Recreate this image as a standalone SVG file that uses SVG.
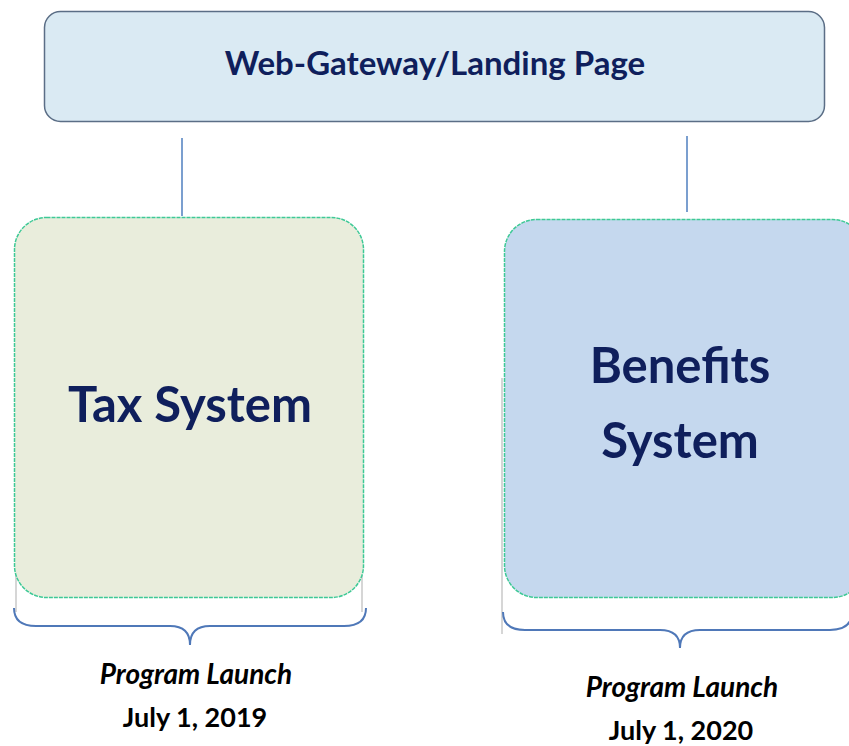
<svg xmlns="http://www.w3.org/2000/svg" width="849" height="746" viewBox="0 0 849 746">
<style>
.t{font-family:Lato,"Open Sans","Liberation Sans",sans-serif;font-weight:bold;fill:#0f1f5c;text-anchor:middle}
.lbl{font-family:Lato,"Open Sans","Liberation Sans",sans-serif;font-weight:bold;fill:#000;text-anchor:middle}
.conn{stroke:#4f7fbf;stroke-width:1.5;fill:none}
.brace{stroke:#4f78b8;stroke-width:2;fill:none}
.guide{stroke:#c8c8c8;stroke-width:1.5;fill:none}
.sys{stroke:#3ec996;stroke-width:1.5;stroke-dasharray:4 1}
</style>
<rect width="849" height="746" fill="#fff"/>
<g id="gateway">
<rect x="44.5" y="11.5" width="780" height="110" rx="16" fill="#daeaf3" stroke="#5b6e86" stroke-width="1.5"/>
<text class="t" x="435" y="75" font-size="33">Web-Gateway/Landing Page</text>
</g>
<g id="connectors">
<line class="conn" x1="182" y1="138" x2="182" y2="216"/>
<line class="conn" x1="687" y1="136" x2="687" y2="212"/>
</g>
<g id="guides">
<line class="guide" x1="16" y1="575" x2="16" y2="612"/>
<line class="guide" x1="362" y1="575" x2="362" y2="612"/>
<line class="guide" x1="502" y1="378" x2="502" y2="634"/>
</g>
<g id="tax">
<rect class="sys" x="14.5" y="217.5" width="349" height="380" rx="32" fill="#e9eddc"/>
<text class="t" x="190" y="422" font-size="49">Tax System</text>
</g>
<g id="benefits">
<rect class="sys" x="504.5" y="219.5" width="360" height="378" rx="32" fill="#c5d8ee"/>
<text class="t" x="680" y="383" font-size="49">Benefits</text>
<text class="t" x="680" y="458" font-size="49">System</text>
</g>
<g id="brace-tax">
<path class="brace" d="M14,608 Q14,626 36,626 L170,626 Q190,626 190,645 Q190,626 210,626 L344,626 Q366,626 366,608"/>
<text class="lbl" x="196" y="684" font-size="28" font-style="italic">Program Launch</text>
<text class="lbl" x="195" y="727" font-size="27">July 1, 2019</text>
</g>
<g id="brace-benefits">
<path class="brace" d="M503,612 Q503,630 525,630 L660,630 Q680,630 680,648 Q680,630 700,630 L830,630 Q852,630 852,612"/>
<text class="lbl" x="682" y="697" font-size="28" font-style="italic">Program Launch</text>
<text class="lbl" x="681" y="740" font-size="27">July 1, 2020</text>
</g>
</svg>
